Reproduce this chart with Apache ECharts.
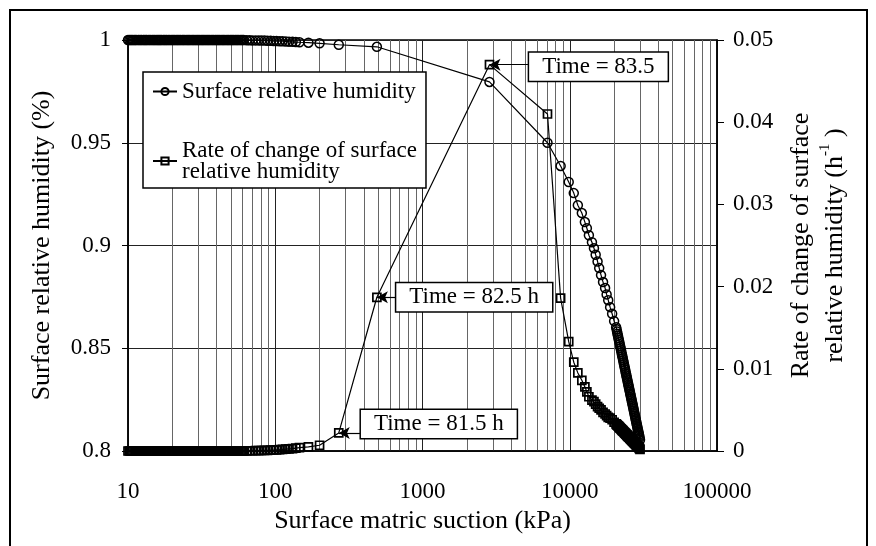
<!DOCTYPE html>
<html>
<head>
<meta charset="utf-8">
<script src="https://cdn.jsdelivr.net/npm/echarts@6/dist/echarts.min.js"></script>
<style>
  html, body { margin: 0; padding: 0; background: #fff; }
  #chart { width: 876px; height: 546px; }
</style>
</head>
<body>
<div id="chart"></div>
<script>
  // surface matric suction (kPa), one entry per time step
  var suction = [
    10, 10.2, 10.4, 10.6, 10.8, 11.0, 11.2, 11.4, 11.7, 11.9,
    12.2, 12.4, 12.7, 12.9, 13.2, 13.4, 13.7, 14.0, 14.3, 14.6,
    14.9, 15.2, 15.5, 15.8, 16.1, 16.4, 16.7, 17.0, 17.4, 17.7,
    18.1, 18.4, 18.8, 19.2, 19.6, 20.0, 20.4, 20.8, 21.2, 21.6,
    22.0, 22.5, 22.9, 23.4, 23.8, 24.3, 24.8, 25.3, 25.8, 26.3,
    26.8, 27.4, 27.9, 28.5, 29.0, 29.6, 30.2, 30.8, 31.4, 32.0,
    32.6, 33.3, 33.9, 34.6, 35.3, 36.0, 36.7, 37.5, 38.2, 39.0,
    39.7, 40.5, 41.3, 42.1, 42.9, 43.8, 44.6, 45.5, 46.4, 47.4,
    48.3, 49.3, 50.2, 51.2, 52.2, 53.3, 54.3, 55.4, 56.5, 57.7,
    58.8, 60.0, 61.1,
    64, 67, 70, 73.5, 77, 80.5, 84.5, 88.5, 93, 97.5,
    102, 107, 112, 118, 124, 131, 138,
    146, 168, 200, 270, 490, 2850,
    7060, 8670, 9840, 10650, 11350, 12080, 12670, 13070, 13490, 14150,
    14600, 15000, 15450, 15850, 16310, 16830, 17380, 17800, 18250, 18800,
    19400, 20010,
    20650, 20800, 20950, 21100, 21250, 21400, 21550, 21700, 21850, 22000,
    22150, 22300, 22450, 22600, 22750, 22900, 23050, 23200, 23350, 23500,
    23650, 23800, 23950, 24100, 24250, 24400, 24550, 24700, 24850, 25000,
    25150, 25300, 25450, 25600, 25750, 25900, 26050, 26200, 26350, 26500,
    26650, 26800, 26950, 27100, 27250, 27400, 27550, 27700, 27850, 28000,
    28150, 28300, 28450, 28600, 28750, 28900, 29050, 29200, 29350, 29500,
    29650, 29800, 30000
  ]
  // surface relative humidity (left axis)
  var humidity = [
    1, 1, 1, 1, 1, 1, 1, 1, 1, 1,
    1, 1, 1, 1, 1, 1, 1, 1, 1, 1,
    1, 1, 1, 1, 1, 1, 1, 1, 1, 1,
    1, 1, 1, 1, 1, 1, 1, 1, 1, 1,
    1, 1, 1, 1, 1, 1, 1, 1, 1, 1,
    1, 1, 1, 1, 1, 1, 1, 1, 1, 1,
    1, 1, 1, 1, 1, 1, 1, 1, 1, 1,
    1, 1, 1, 1, 1, 1, 1, 1, 1, 1,
    1, 1, 1, 1, 1, 1, 1, 1, 1, 1,
    1, 1, 1,
    0.9999, 0.9999, 0.9998, 0.9998, 0.9998, 0.9997, 0.9997, 0.9996, 0.9996, 0.9995,
    0.9995, 0.9994, 0.9994, 0.9993, 0.9992, 0.9991, 0.9990,
    0.9989, 0.9987, 0.9984, 0.9977, 0.9967, 0.9796,
    0.9500, 0.9387, 0.9309, 0.9255, 0.9196, 0.9158, 0.9114, 0.9084, 0.9050, 0.9016,
    0.8987, 0.8955, 0.8922, 0.8890, 0.8856, 0.8822, 0.8793, 0.8762, 0.8734, 0.8700,
    0.8668, 0.8632,
    0.8602, 0.8592, 0.8581, 0.8571, 0.8561, 0.8550, 0.8540, 0.8530, 0.8520, 0.8510,
    0.8500, 0.8490, 0.8480, 0.8470, 0.8461, 0.8451, 0.8441, 0.8432, 0.8422, 0.8413,
    0.8404, 0.8395, 0.8385, 0.8376, 0.8367, 0.8358, 0.8349, 0.8340, 0.8331, 0.8322,
    0.8314, 0.8305, 0.8296, 0.8288, 0.8279, 0.8271, 0.8262, 0.8254, 0.8246, 0.8237,
    0.8229, 0.8221, 0.8213, 0.8204, 0.8196, 0.8188, 0.8180, 0.8172, 0.8164, 0.8156,
    0.8149, 0.8141, 0.8133, 0.8125, 0.8118, 0.8110, 0.8102, 0.8095, 0.8088, 0.8080,
    0.8073, 0.8065, 0.8055
  ]
  // rate of change of surface relative humidity, 1/h (right axis)
  var rate = [
    0, 0, 0, 0, 0, 0, 0, 0, 0, 0,
    0, 0, 0, 0, 0, 0, 0, 0, 0, 0,
    0, 0, 0, 0, 0, 0, 0, 0, 0, 0,
    0, 0, 0, 0, 0, 0, 0, 0, 0, 0,
    0, 0, 0, 0, 0, 0, 0, 0, 0, 0,
    0, 0, 0, 0, 0, 0, 0, 0, 0, 0,
    0, 0, 0, 0, 0, 0, 0, 0, 0, 0,
    0, 0, 0, 0, 0, 0, 0, 0, 0, 0,
    0, 0, 0, 0, 0, 0, 0, 0, 0, 0,
    0, 0, 0,
    0.00002, 0.00003, 0.00003, 0.00004, 0.00005, 0.00006, 0.00007, 0.00008, 0.0001, 0.00012,
    0.00014, 0.00016, 0.00019, 0.00022, 0.00026, 0.0003, 0.00035,
    0.0004, 0.0005, 0.0007, 0.0022, 0.0187, 0.0470,
    0.0410, 0.0186, 0.0133, 0.0108, 0.0095, 0.0086, 0.0078, 0.0072, 0.0066, 0.0062,
    0.0060, 0.0057, 0.0054, 0.0052, 0.0050, 0.0047, 0.0045, 0.0043, 0.0041, 0.0040,
    0.0038, 0.0035,
    0.00330, 0.00324, 0.00319, 0.00313, 0.00307, 0.00302, 0.00296, 0.00290, 0.00285, 0.00279,
    0.00274, 0.00268, 0.00263, 0.00258, 0.00252, 0.00247, 0.00242, 0.00237, 0.00231, 0.00226,
    0.00221, 0.00216, 0.00211, 0.00206, 0.00201, 0.00196, 0.00191, 0.00186, 0.00181, 0.00176,
    0.00172, 0.00167, 0.00162, 0.00157, 0.00153, 0.00148, 0.00143, 0.00139, 0.00134, 0.00130,
    0.00125, 0.00120, 0.00116, 0.00111, 0.00107, 0.00103, 0.00098, 0.00094, 0.00089, 0.00085,
    0.00081, 0.00076, 0.00072, 0.00068, 0.00064, 0.00060, 0.00055, 0.00051, 0.00047, 0.00043,
    0.00037, 0.00030, 0.00020
  ]
  var xTickLabels = ['10', '100', '1000', '10000', '100000']
  // time notes and the suction where each one points
  var noteTexts = ['Time = 81.5 h', 'Time = 82.5 h', 'Time = 83.5']
  var noteSuction = [270, 490, 2850]

  var nameHumidity = 'Surface relative humidity'
  var nameRate = 'Rate of change of surface\nrelative humidity'
  var serif = 'Liberation Serif'

  var humidityData = suction.map(function (x, i) { return [x, humidity[i]] })
  var rateData = suction.map(function (x, i) { return [x, rate[i]] })

  // where each note box starts (kPa) and its vertical nudge (px)
  var boxStart = [382, 664, 5300]
  var boxNudge = [-9, 0, 2]
  var noteLines = noteTexts.map(function (t, k) {
    var i = suction.indexOf(noteSuction[k])
    return [
      { coord: [suction[i], rate[i]] },
      { coord: [boxStart[k], rate[i]], label: { formatter: t, offset: [0, boxNudge[k]] } }
    ]
  })

  var chart = echarts.init(document.getElementById('chart'))
  var option = {
    animation: false,
    backgroundColor: '#fff',
    textStyle: { fontFamily: serif, color: '#000' },
    grid: {
      left: 128, right: 159, top: 40, bottom: 95,
      show: true, borderColor: '#000', borderWidth: 1.5
    },
    legend: {
      data: [nameHumidity, nameRate],
      orient: 'vertical',
      left: 143,
      top: 72,
      padding: [8, 9, 5, 9],
      itemGap: 36,
      itemWidth: 24,
      itemHeight: 9,
      backgroundColor: '#fff',
      borderColor: '#000',
      borderWidth: 1.5,
      textStyle: { fontFamily: serif, fontSize: 23, lineHeight: 21, color: '#000' }
    },
    xAxis: {
      type: 'log',
      logBase: 10,
      min: 10,
      max: 100000,
      name: 'Surface matric suction (kPa)',
      nameLocation: 'middle',
      nameGap: 57,
      nameMoveOverlap: false,
      nameTextStyle: { fontFamily: serif, fontSize: 26, color: '#000' },
      axisLine: { lineStyle: { color: '#000', width: 1.5 } },
      axisTick: { show: false },
      axisLabel: {
        fontFamily: serif, fontSize: 23, color: '#000', margin: 29,
        formatter: function (v) { return xTickLabels[Math.round(Math.log10(v)) - 1] }
      },
      splitLine: { show: true, lineStyle: { color: '#222', width: 1 } },
      minorTick: { show: false, splitNumber: 9 },
      minorSplitLine: { show: true, lineStyle: { color: '#666', width: 1 } }
    },
    yAxis: [
      {
        type: 'value',
        min: 0.8,
        max: 1,
        interval: 0.05,
        name: 'Surface relative humidity (%)',
        nameLocation: 'middle',
        nameRotate: 90,
        nameGap: 73,
        nameMoveOverlap: false,
        nameTextStyle: { fontFamily: serif, fontSize: 26, color: '#000' },
        axisLine: { show: true, lineStyle: { color: '#000', width: 1.5 } },
        axisTick: { show: true, length: 6, lineStyle: { color: '#000' } },
        axisLabel: { fontFamily: serif, fontSize: 23, color: '#000', margin: 17 },
        splitLine: { show: true, lineStyle: { color: '#222', width: 1 } }
      },
      {
        type: 'value',
        position: 'right',
        min: 0,
        max: 0.05,
        interval: 0.01,
        name: '{t|Rate of change of surface}\n{t|relative humidity (h}{s|-1}{t| )}',
        nameLocation: 'middle',
        nameRotate: 90,
        nameGap: 67,
        nameMoveOverlap: false,
        nameTextStyle: {
          fontFamily: serif,
          color: '#000',
          rich: {
            t: { fontFamily: serif, fontSize: 26, lineHeight: 34, color: '#000' },
            s: { fontFamily: serif, fontSize: 15, lineHeight: 34, verticalAlign: 'top', color: '#000' }
          }
        },
        axisLine: { show: true, lineStyle: { color: '#000', width: 1.5 } },
        axisTick: { show: true, length: 7, lineStyle: { color: '#000' } },
        axisLabel: { fontFamily: serif, fontSize: 23, color: '#000', margin: 16 },
        splitLine: { show: false }
      }
    ],
    series: [
      {
        name: nameHumidity,
        type: 'line',
        yAxisIndex: 0,
        data: humidityData,
        symbol: 'circle',
        symbolSize: 9,
        itemStyle: { color: 'rgba(255,255,255,0)', borderColor: '#000', borderWidth: 1.5 },
        lineStyle: { color: '#000', width: 1.2 },
        emphasis: { disabled: true }
      },
      {
        name: nameRate,
        type: 'line',
        yAxisIndex: 1,
        data: rateData,
        symbol: 'rect',
        symbolSize: 8,
        itemStyle: { color: 'rgba(255,255,255,0)', borderColor: '#000', borderWidth: 1.7 },
        lineStyle: { color: '#000', width: 1.2 },
        emphasis: { disabled: true },
        markLine: {
          silent: true,
          symbol: ['arrow', 'none'],
          symbolSize: [9, 11],
          lineStyle: { color: '#000', width: 1.2, type: 'solid' },
          label: {
            show: true,
            position: 'end',
            distance: 0,
            fontFamily: serif,
            fontSize: 23,
            color: '#000',
            backgroundColor: '#fff',
            borderColor: '#000',
            borderWidth: 1.5,
            padding: [3, 13, 2, 13]
          },
          data: noteLines
        }
      }
    ],
    graphic: [
      {
        type: 'rect',
        silent: true,
        shape: { x: 10, y: 10, width: 857, height: 600 },
        style: { fill: 'none', stroke: '#000', lineWidth: 2 }
      }
    ]
  }
  chart.setOption(option)
</script>
</body>
</html>
